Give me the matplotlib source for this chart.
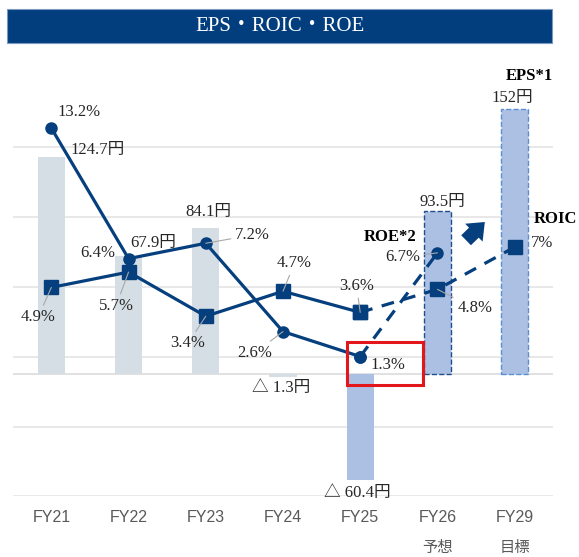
import numpy as np
import matplotlib
matplotlib.use("Agg")
import matplotlib.pyplot as plt
from matplotlib.patches import Rectangle
from matplotlib.transforms import blended_transform_factory

# ---------------- data ----------------
categories = ["FY21", "FY22", "FY23", "FY24", "FY25", "FY26", "FY29"]
sub_labels = ["", "", "", "", "", "予想", "目標"]
eps = [124.7, 67.9, 84.1, -1.3, -60.4, 93.5, 152.0]
eps_labels = ["124.7円", "67.9円", "84.1円", "△ 1.3円", "△ 60.4円", "93.5円", "152円"]
roe = [13.2, 6.4, 7.2, 2.6, 1.3, 6.7, np.nan]
roic = [4.9, 5.7, 3.4, 4.7, 3.6, 4.8, 7.0]
roe_labels = ["13.2%", "6.4%", "7.2%", "2.6%", "1.3%", "6.7%", ""]
roic_labels = ["4.9%", "5.7%", "3.4%", "4.7%", "3.6%", "4.8%", "7%"]
title = "EPS・ROIC・ROE"

# ---------------- style ----------------
NAVY = "#053F7E"
GRID = "#E2E2E2"
LEAD = "#A8A8A8"
bar_colors = ["#D6DEE5", "#D6DEE5", "#D6DEE5", "#D6DEE5", "#ABC0E3", "#ABC0E3", "#ABC0E3"]
bar_edges = [None, None, None, None, None, "#1F4E8C", "#5B8FD2"]
SERIF = ["Liberation Serif", "Noto Sans CJK JP"]
SANS = ["Liberation Sans", "Noto Sans CJK JP"]

# label offsets in points (dx, dy) and whether a leader line is drawn
px = 0.72
eps_off = [(46.7, 6.7), (24.5, 12.8), (2.2, 15.8), (-2, -11.4), (-3.2, -13), (5, 9.4), (-2.7, 10.8)]
roe_off = [(27.7, 16.4), (-31, 5.3), (46.7, 8.3), (-28, -21.1), (27.3, -8.5), (-34.5, -4.4), None]
roe_lead = [False, False, True, True, False, True, False]
roic_off = [(-13.3, -29.9), (-12.5, -33.9), (-17.8, -27.1), (11.5, 28), (-3.7, 26.4), (37.2, -19), (27, 3.8)]
roic_lead = [True, True, True, True, True, True, False]

fig = plt.figure(figsize=(5.79, 5.57), dpi=100)
W, H = 579, 557
ax = fig.add_axes([12.7 / W, (H - 496.4) / H, 540.6 / W, 410 / H])
x = np.arange(len(categories))

ax.set_xlim(-0.5, len(categories) - 0.5)
ax.set_ylim(-70, 165)
ax.set_yticks([-70, -30, 10, 50, 90, 130])
ax.yaxis.grid(True, color=GRID, lw=1.1)
ax.set_axisbelow(True)
ax.tick_params(axis="y", length=0, labelleft=False)
for s in ax.spines.values():
    s.set_visible(False)
ax.axhline(0, color="#D9D9D9", lw=1.1, zorder=1)

# bars
for i in range(len(categories)):
    ec = bar_edges[i]
    if ec:
        ax.bar(x[i], eps[i], width=0.355, color=bar_colors[i],
               edgecolor=ec, linestyle="--", linewidth=1.0, zorder=2)
    else:
        ax.bar(x[i], eps[i], width=0.355, color=bar_colors[i],
               edgecolor="none", linewidth=0, zorder=2)

# x tick labels
ax.set_xticks(x)
ax.set_xticklabels(categories, family=SANS, fontsize=11.5, color="#595959")
ax.tick_params(axis="x", length=0, pad=10)
tb = blended_transform_factory(ax.transData, ax.transAxes)
for i, s in enumerate(sub_labels):
    if s:
        ax.text(x[i], -0.126, s, transform=tb, ha="center", va="center",
                family=SANS, fontsize=11, color="#595959")

# EPS labels
for i, lab in enumerate(eps_labels):
    dx, dy = eps_off[i]
    ax.annotate(lab, xy=(x[i], eps[i]), xytext=(dx * px, dy * px),
                textcoords="offset points", ha="center", va="center",
                family=SERIF, fontsize=12, color="#262626", zorder=5,
                annotation_clip=False)

# percent axis
ax2 = ax.twinx()
ax2.set_ylim(-5.984, 15.37)
ax2.set_axis_off()

roe_a = np.array(roe, dtype=float)
roic_a = np.array(roic, dtype=float)
lw = 2.3
ax2.plot(x[:5], roe_a[:5], color=NAVY, lw=lw, marker="o", ms=8, zorder=4)
ax2.plot(x[4:6], roe_a[4:6], color=NAVY, lw=lw, ls=(0, (4, 3)), marker="o", ms=8, zorder=4)
ax2.plot(x[:5], roic_a[:5], color=NAVY, lw=lw, marker="s", ms=10.5, zorder=4)
ax2.plot(x[4:], roic_a[4:], color=NAVY, lw=lw, ls=(0, (4, 3)), marker="s", ms=10.5, zorder=4)

def pct_label(i, val, lab, off, lead):
    if not lab or off is None:
        return
    dx, dy = off
    kw = {}
    if lead:
        kw["arrowprops"] = dict(arrowstyle="-", color=LEAD, lw=0.8, shrinkA=1, shrinkB=0)
    ax2.annotate(lab, xy=(x[i], val), xytext=(dx * px, dy * px),
                 textcoords="offset points", ha="center", va="center",
                 family=SERIF, fontsize=12, color="#262626", zorder=6,
                 annotation_clip=False, **kw)

for i in range(len(categories)):
    pct_label(i, roe_a[i], roe_labels[i], roe_off[i], roe_lead[i])
    pct_label(i, roic_a[i], roic_labels[i], roic_off[i], roic_lead[i])

# series names
ax2.annotate("ROE*2", xy=(x[5], roe_a[5]), xytext=(-47.5 * px, 16.2 * px),
             textcoords="offset points", ha="center", va="center",
             family=SERIF, fontsize=12, weight="bold", color="black")
ax2.annotate("ROIC", xy=(x[6], roic_a[6]), xytext=(40.3 * px, 27.8 * px),
             textcoords="offset points", ha="center", va="center",
             family=SERIF, fontsize=12, weight="bold", color="black",
             annotation_clip=False)
ax.annotate("EPS*1", xy=(x[6], eps[6]), xytext=(14.3 * px, 33.1 * px),
            textcoords="offset points", ha="center", va="center",
            family=SERIF, fontsize=12, weight="bold", color="black",
            annotation_clip=False)

# upward block arrow
ax2.annotate("", xy=(0.877, 0.674), xytext=(0.835, 0.62), xycoords="axes fraction",
             arrowprops=dict(arrowstyle="simple,head_length=0.55,head_width=0.9,tail_width=0.5",
                             color=NAVY, lw=0, mutation_scale=20))

# red highlight box around FY25 ROE
ax2.add_patch(Rectangle((x[4] - 0.175, -6.1), 0.984, 24.8, transform=ax.transData,
                        fill=False, edgecolor="#E3161B", lw=2.2, zorder=7, clip_on=False))

# title banner
fig.patches.append(Rectangle((6.7 / W, (H - 43.3) / H), 545.6 / W, 34 / H,
                             transform=fig.transFigure, facecolor="#023E7D",
                             edgecolor="#7A98C4", lw=0.8))
fig.text(279.5 / W, (H - 26.5) / H, title, ha="center", va="center",
         family=["Liberation Serif", "Noto Sans CJK JP"], fontsize=15, color="white")

fig.savefig("out.png", dpi=100)
